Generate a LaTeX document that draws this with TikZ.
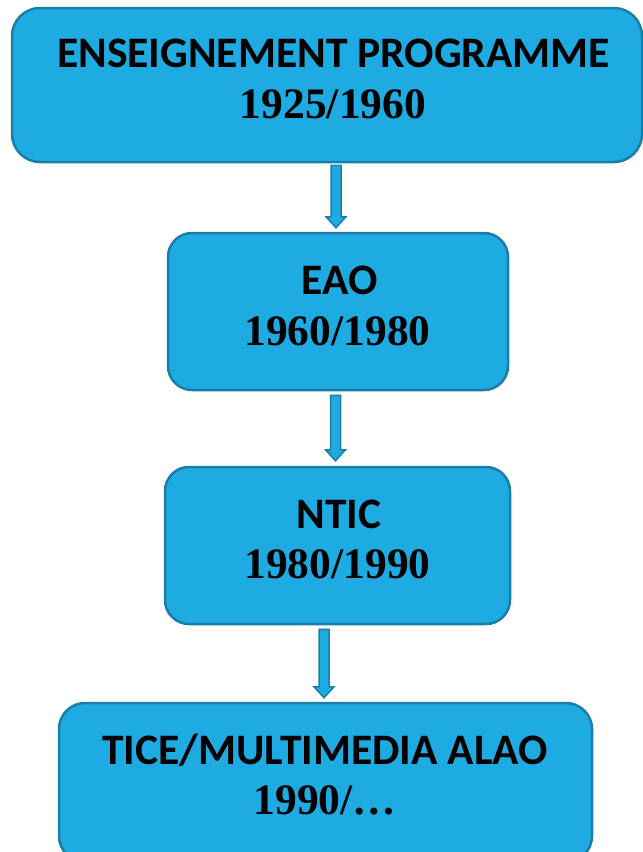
\documentclass[tikz,border=0pt]{standalone}
\usepackage{fontspec}
\usetikzlibrary{calc}
\newfontfamily\headfont{Carlito}
\newfontfamily\yearfont{Liberation Serif}
\definecolor{boxfill}{HTML}{1EABE2}
\definecolor{boxline}{HTML}{1A7FA8}
\tikzset{
  stage/.style={draw=boxline, fill=boxfill, line width=2.5pt, rectangle,
    inner sep=0pt, rounded corners=#1},
  stage/.default=24pt,
  headtext/.style={anchor=base, inner sep=0pt,
    font=\headfont\bfseries\fontsize{43.5}{50}\selectfont},
  yeartext/.style={anchor=base, inner sep=0pt,
    font=\yearfont\bfseries\fontsize{43.5}{50}\selectfont},
  flowarrow/.style={draw=boxline, fill=boxfill, line width=1.5pt, line join=miter}
}
% block arrow from #1 down to the tip #2
\newcommand{\downblock}[2]{%
  \path[flowarrow] let \p1=(#1), \p2=(#2) in
    (\x1-5pt,\y1) -- (\x1+5pt,\y1) -- (\x1+5pt,\y2+11pt) -- (\x1+10pt,\y2+11pt)
    -- (\x2,\y2) -- (\x1-10pt,\y2+11pt) -- (\x1-5pt,\y2+11pt) -- cycle;}
\begin{document}
\begin{tikzpicture}[x=1pt,y=-1pt]
\useasboundingbox (0,0) rectangle (643,852);
\clip (0,0) rectangle (643,852);

% stages
\node[stage=28pt, minimum width=630pt, minimum height=154pt] (b1) at (327,85) {};
\node[stage, minimum width=340pt, minimum height=157pt] (b2) at (338,311.5) {};
\node[stage, minimum width=345pt, minimum height=157pt] (b3) at (337.5,545.5) {};
\node[stage=26pt, minimum width=533pt, minimum height=159pt] (b4) at (325.5,782.5) {};

% labels
\node[headtext] (t1) at (333.5,67) {ENSEIGNEMENT PROGRAMME};
\node[yeartext] (y1) at (333,118) {1925/1960};
\node[headtext] (t2) at (339.5,294) {EAO};
\node[yeartext] (y2) at (337.5,345) {1960/1980};
\node[headtext] (t3) at (339,528) {NTIC};
\node[yeartext] (y3) at (337.5,578) {1980/1990};
\node[headtext] (t4) at (325,764) {TICE/MULTIMEDIA ALAO};
\node[yeartext] (y4) at (325,814) {1990/…};

% connectors
\coordinate (a1e) at ($(b2.north)+(-2,-4)$);
\coordinate (a1s) at ($(a1e |- b1.south)+(0,2)$);
\coordinate (a2e) at ($(b3.north)+(-2,-5)$);
\coordinate (a2s) at ($(a2e |- b2.south)+(0,4)$);
\coordinate (a3e) at ($(b4.north)+(-1.5,-4)$);
\coordinate (a3s) at ($(a3e |- b3.south)+(0,4)$);
\downblock{a1s}{a1e}
\downblock{a2s}{a2e}
\downblock{a3s}{a3e}
\end{tikzpicture}
\end{document}
